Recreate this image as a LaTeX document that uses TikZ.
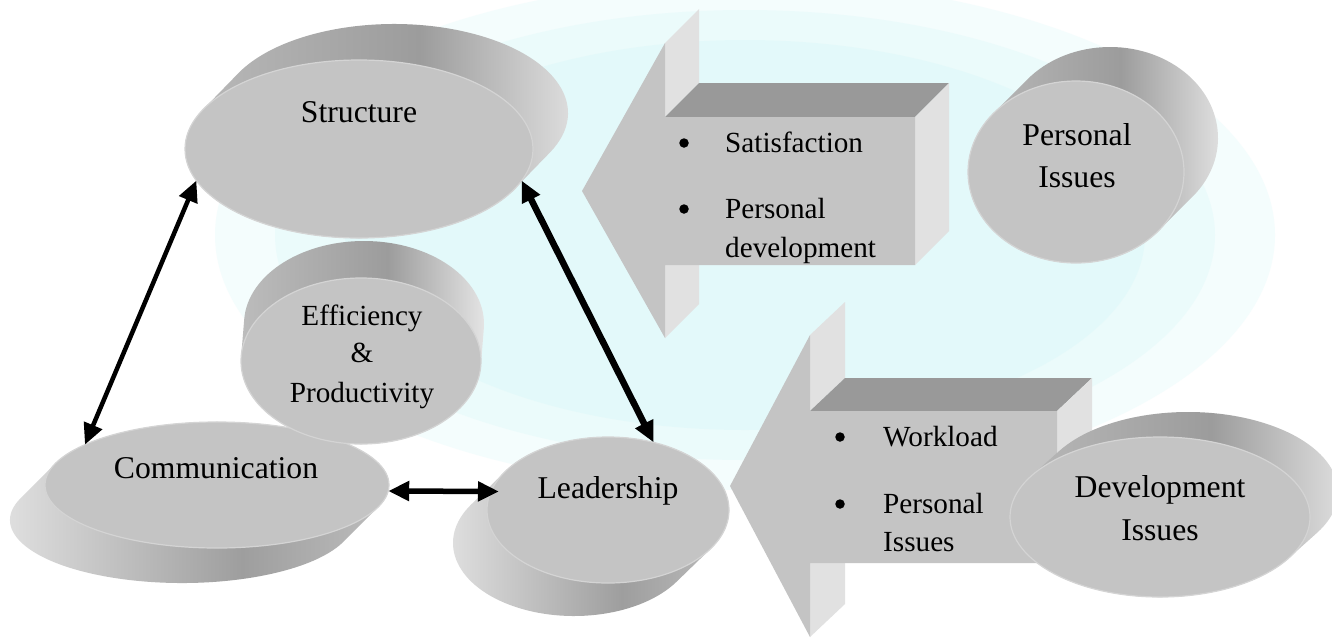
\documentclass[tikz,border=0pt]{standalone}
\usepackage{fontspec}
\setmainfont{Liberation Serif}
\usetikzlibrary{arrows.meta,shapes.geometric}

% palette
\definecolor{facegray}{HTML}{C4C4C4}
\definecolor{rimgray}{HTML}{D4D4D4}
\definecolor{topgray}{HTML}{999999}
\definecolor{sidegray}{HTML}{E1E1E1}
\definecolor{wmcyan}{HTML}{BDF3F5}
\definecolor{upL}{HTML}{BDBDBD}
\definecolor{upM}{HTML}{9C9C9C}
\definecolor{upR}{HTML}{E6E6E6}
\definecolor{dnL}{HTML}{E4E4E4}
\definecolor{dnM}{HTML}{9E9E9E}
\definecolor{dnR}{HTML}{C2C2C2}

% side shadings of the extruded discs
\pgfdeclarehorizontalshading{sideup}{100bp}{color(0bp)=(upL); color(25bp)=(upL); color(55bp)=(upM); color(75bp)=(upR); color(100bp)=(upR)}
\pgfdeclarehorizontalshading{sidedown}{100bp}{color(0bp)=(dnL); color(25bp)=(dnL); color(55bp)=(dnM); color(75bp)=(dnR); color(100bp)=(dnR)}

% swept side of an ellipse moved by (dx,dy):
% #1,#2 centre, #3,#4 radii, #5,#6 extrusion, #7 shading
\newcommand\discside[7]{%
  \pgfmathsetmacro\dsT{atan2(-(#4)*(#5),(#3)*(#6))}%
  \pgfmathsetmacro\dsTa{\dsT+180}%
  \pgfmathsetmacro\dsTb{\dsT+360}%
  \shade[shading=#7, shift={(#1,#2)}]
    ([shift={(#5,#6)}]\dsT:#3 and #4)
    arc[start angle=\dsT, end angle=\dsTa, x radius=#3, y radius=#4]
    -- (\dsTa:#3 and #4)
    arc[start angle=\dsTa, end angle=\dsTb, x radius=#3, y radius=#4]
    -- cycle;
}

\begin{document}
\begin{tikzpicture}[x=1pt, y=1pt, yscale=-1,
  face/.style={ellipse, fill=facegray, draw=rimgray, line width=1.2pt, inner sep=0pt, outer sep=0pt},
  lbl/.style={font=\fontsize{31.7}{38}\selectfont, inner sep=0pt, anchor=base},
  lblsmall/.style={font=\fontsize{29.2}{35}\selectfont, inner sep=0pt, anchor=base},
  itemtext/.style={font=\fontsize{29.2}{35}\selectfont, inner sep=0pt, anchor=base west},
  bul/.style={circle, fill=black, minimum size=9.5pt, inner sep=0pt},
  conn/.style={draw=black, {Triangle[length=21pt, width=19pt]}-{Triangle[length=21pt, width=19pt]}}
]
\useasboundingbox (0,0) rectangle (1332,638);
\fill[white] (0,0) rectangle (1332,638);

% faint seal in the background
\foreach \rx/\ry in {530/255, 470/225, 400/195}
  \fill[wmcyan, opacity=0.16] (745,235) ellipse[x radius=\rx, y radius=\ry];

% upper block arrow
\fill[sidegray] (665,43) -- (699,9) -- (699,83) -- (665,117) -- cycle;
\fill[sidegray] (665,265) -- (699,231) -- (699,304) -- (665,338) -- cycle;
\fill[topgray] (665,117) -- (699,83) -- (949,83) -- (915,117) -- cycle;
\fill[sidegray] (915,117) -- (949,83) -- (949,231) -- (915,265) -- cycle;
\fill[facegray] (582,191) -- (665,43) -- (665,117) -- (915,117) -- (915,265)
  -- (665,265) -- (665,338) -- cycle;

% Personal Issues disc
\discside{1076}{172}{108}{91}{34}{-34}{sideup}
\node[face, minimum width=216pt, minimum height=182pt] (pers) at (1076,172) {};

% Communication disc
\discside{217}{485}{172}{63}{-35}{35}{sidedown}
\node[face, minimum width=344pt, minimum height=126pt] (comm) at (217,485) {};

% Efficiency & Productivity disc
\discside{361}{361}{120}{83}{3}{-37}{sideup}
\node[face, minimum width=240pt, minimum height=166pt] (eff) at (361,361) {};

% Structure disc
\discside{359}{149}{174}{89}{35}{-36}{sideup}
\node[face, minimum width=348pt, minimum height=178pt] (structure) at (359,149) {};

% lower block arrow
\fill[sidegray] (810,335) -- (845,302) -- (845,378) -- (810,411) -- cycle;
\fill[sidegray] (810,563) -- (845,530) -- (845,604) -- (810,637) -- cycle;
\fill[topgray] (810,411) -- (845,378) -- (1092,378) -- (1057,411) -- cycle;
\fill[sidegray] (1057,411) -- (1092,378) -- (1092,530) -- (1057,563) -- cycle;
\fill[facegray] (730,486) -- (810,335) -- (810,411) -- (1057,411) -- (1057,563)
  -- (810,563) -- (810,637) -- cycle;

% Leadership disc
\discside{608}{510}{121}{73}{-34}{33}{sidedown}
\node[face, minimum width=242pt, minimum height=146pt] (lead) at (608,510) {};

% Development Issues disc
\discside{1160}{517}{150}{80}{28}{-25}{sideup}
\node[face, minimum width=300pt, minimum height=160pt] (dev) at (1160,517) {};

% labels
\node[lbl] (structure-t) at (359,122) {Structure};
\node[lbl] (comm-t) at (216,478) {Communication};
\node[lbl] (lead-t) at (608,498) {Leadership};
\node[lbl] (pers-t1) at (1077,145) {Personal};
\node[lbl] (pers-t2) at (1077,187) {Issues};
\node[lbl] (dev-t1) at (1160,497) {Development};
\node[lbl] (dev-t2) at (1160,540) {Issues};
\node[lblsmall] (eff-t1) at (362,325) {Efficiency};
\node[lblsmall] (eff-t2) at (362,362) {\&};
\node[lblsmall] (eff-t3) at (362,402) {Productivity};

% upper list
\node[bul] (up-b1) at (684,143) {};
\node[bul] (up-b2) at (684,209) {};
\node[itemtext] (up-i1) at (725,152) {Satisfaction};
\node[itemtext] (up-i2) at (725,218) {Personal};
\node[itemtext] (up-i3) at (725,257) {development};

% lower list
\node[bul] (lo-b1) at (840,437) {};
\node[bul] (lo-b2) at (840,504) {};
\node[itemtext] (lo-i1) at (883,446) {Workload};
\node[itemtext] (lo-i2) at (883,513) {Personal};
\node[itemtext] (lo-i3) at (883,551) {Issues};

% connectors
\draw[conn, line width=4.5pt] (structure.191) -- (comm.163);
\draw[conn, line width=6.5pt] (structure.349) -- (lead.56);
\draw[conn, line width=5.5pt, shorten >=-8pt] (comm.358) -- (lead.171);
\end{tikzpicture}
\end{document}
